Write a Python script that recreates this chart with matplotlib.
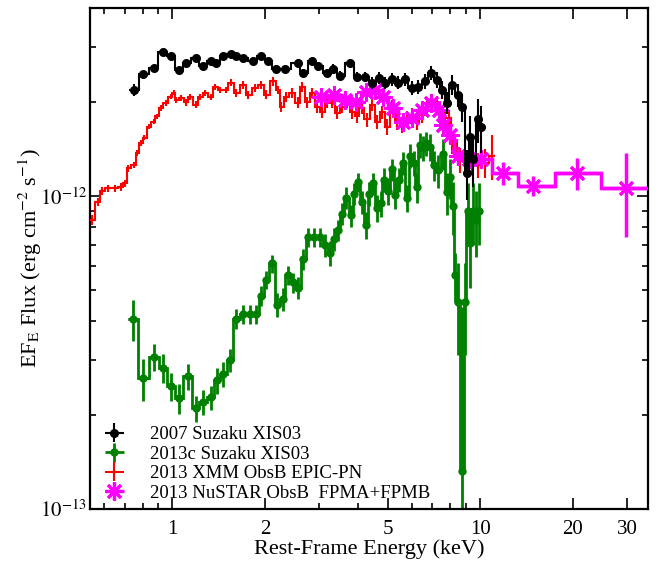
import numpy as np
import matplotlib
matplotlib.use("Agg")
import matplotlib.pyplot as plt
from matplotlib.ticker import FixedLocator, FixedFormatter, LogLocator, NullFormatter

plt.rcParams['font.family'] = ['Liberation Serif', 'DejaVu Serif']
plt.rcParams['mathtext.fontset'] = 'stix'

# fluxes are in units of 1e-12 erg cm^-2 s^-1, energies in keV
scale = 1e-12

# 2007 Suzaku XIS03
suz07_e = np.array([0.75, 0.805, 0.87, 0.93, 0.99, 1.05, 1.11, 1.19, 1.26, 1.33,
                    1.39, 1.46, 1.55, 1.61, 1.70, 1.83, 1.94, 2.05, 2.17, 2.33,
                    2.55, 2.66, 2.85, 2.98, 3.18, 3.33, 3.51, 3.78, 3.98, 4.23,
                    4.46, 4.70, 4.92, 5.17, 5.42, 5.70, 6.00, 6.28, 6.63, 6.93,
                    7.24, 7.52, 7.80, 8.10, 8.48, 8.75, 9.07, 9.28, 9.50, 9.85,
                    10.1])
suz07_f = np.array([2.19, 2.46, 2.58, 2.90, 2.81, 2.54, 2.67, 2.76, 2.60, 2.70,
                    2.66, 2.81, 2.86, 2.80, 2.76, 2.70, 2.80, 2.70, 2.56, 2.56,
                    2.67, 2.48, 2.70, 2.60, 2.48, 2.56, 2.43, 2.66, 2.41, 2.41,
                    2.31, 2.39, 2.31, 2.37, 2.31, 2.37, 2.22, 2.24, 2.33, 2.48,
                    2.36, 2.19, 1.99, 2.27, 2.11, 1.93, 1.19, 1.55, 1.32, 1.76,
                    1.66])
suz07_err = np.array([0.10, 0.06, 0.05, 0.05, 0.05, 0.05, 0.05, 0.05, 0.05, 0.05,
                      0.05, 0.05, 0.05, 0.05, 0.05, 0.05, 0.05, 0.06, 0.06, 0.06,
                      0.07, 0.07, 0.07, 0.08, 0.08, 0.08, 0.08, 0.09, 0.09, 0.09,
                      0.10, 0.10, 0.10, 0.11, 0.11, 0.11, 0.12, 0.12, 0.13, 0.13,
                      0.14, 0.15, 0.16, 0.17, 0.18, 0.20, 0.22, 0.25, 0.25, 0.28,
                      0.28])

# 2013c Suzaku XIS03
suz13_e = np.array([0.747, 0.805, 0.87, 0.935, 0.99, 1.05, 1.12, 1.19, 1.26, 1.33,
                    1.40, 1.46, 1.54, 1.61, 1.70, 1.79, 1.87, 1.94, 2.02, 2.11,
                    2.19, 2.28, 2.38, 2.47, 2.56, 2.66, 2.76, 2.89, 3.02, 3.14,
                    3.26, 3.36, 3.46, 3.56, 3.67, 3.81, 3.90, 4.02, 4.14, 4.26,
                    4.36, 4.49, 4.62, 4.75, 4.86, 5.02, 5.17, 5.30, 5.45, 5.63,
                    5.79, 5.93, 6.10, 6.23, 6.38, 6.50, 6.66, 6.88, 7.07, 7.30,
                    7.58, 7.80, 7.99, 8.15, 8.30, 8.50, 8.75, 8.95, 9.10, 9.30,
                    9.50, 9.70, 9.90])
suz13_f = np.array([0.405, 0.262, 0.306, 0.282, 0.247, 0.226, 0.266, 0.210, 0.220, 0.228,
                    0.258, 0.270, 0.300, 0.405, 0.420, 0.420, 0.420, 0.480, 0.540, 0.610,
                    0.450, 0.470, 0.560, 0.530, 0.510, 0.630, 0.740, 0.740, 0.740, 0.700,
                    0.660, 0.730, 0.780, 0.880, 0.990, 0.870, 1.020, 1.110, 0.960, 0.810,
                    1.020, 1.100, 0.920, 0.950, 1.130, 1.040, 1.220, 1.010, 1.130, 1.280,
                    0.990, 1.350, 1.280, 1.070, 1.460, 1.430, 1.480, 1.440, 1.260, 1.210,
                    1.370, 1.030, 1.150, 0.930, 0.560, 0.460, 0.132, 0.460, 0.900, 0.710,
                    0.900, 0.840, 0.900])
suz13_err = np.array([0.060, 0.040, 0.030, 0.030, 0.025, 0.025, 0.025, 0.020, 0.020, 0.020,
                      0.025, 0.025, 0.025, 0.030, 0.030, 0.030, 0.030, 0.035, 0.035, 0.040,
                      0.040, 0.040, 0.040, 0.040, 0.040, 0.050, 0.050, 0.050, 0.050, 0.060,
                      0.060, 0.060, 0.060, 0.070, 0.080, 0.070, 0.080, 0.080, 0.080, 0.080,
                      0.090, 0.090, 0.090, 0.090, 0.100, 0.100, 0.100, 0.100, 0.100, 0.110,
                      0.100, 0.120, 0.120, 0.120, 0.130, 0.130, 0.130, 0.140, 0.140, 0.150,
                      0.160, 0.160, 0.170, 0.180, 0.100, 0.150, 0.310, 0.150, 0.200, 0.200,
                      0.200, 0.200, 0.200])

# 2013 XMM ObsB EPIC-PN
xmm_e = np.array([0.55, 0.575, 0.59, 0.62, 0.65, 0.68, 0.70, 0.72, 0.75, 0.77,
                  0.79, 0.81, 0.84, 0.87, 0.89, 0.92, 0.95, 0.99, 1.01, 1.03,
                  1.07, 1.11, 1.14, 1.19, 1.23, 1.28, 1.33, 1.38, 1.43, 1.49,
                  1.55, 1.61, 1.70, 1.76, 1.86, 1.94, 2.02, 2.13, 2.21, 2.26,
                  2.34, 2.45, 2.55, 2.64, 2.74, 2.85, 2.95, 3.07, 3.18, 3.30,
                  3.43, 3.56, 3.70, 3.84, 3.98, 4.13, 4.29, 4.46, 4.63, 4.80,
                  4.99, 5.17, 5.37, 5.58, 5.79, 6.00, 6.23, 6.47, 6.72, 6.98,
                  7.24, 7.41, 7.69, 7.93, 8.10, 8.42, 8.61, 9.07, 9.42, 9.85,
                  10.4, 10.9])
xmm_f = np.array([0.84, 0.96, 1.04, 1.06, 1.06, 1.07, 1.10, 1.23, 1.26, 1.38,
                  1.48, 1.54, 1.67, 1.73, 1.80, 1.92, 1.99, 2.08, 2.14, 2.03,
                  2.06, 2.00, 2.08, 1.96, 2.08, 2.14, 2.08, 2.24, 2.19, 2.19,
                  2.31, 2.14, 2.27, 2.11, 2.22, 2.27, 2.11, 2.33, 2.19, 1.93,
                  2.08, 2.14, 1.99, 2.24, 2.00, 2.14, 1.93, 1.86, 2.00, 1.99,
                  1.85, 1.93, 2.00, 1.86, 1.80, 1.92, 1.76, 1.96, 1.73, 1.86,
                  1.67, 1.93, 1.73, 1.69, 1.78, 1.82, 1.73, 1.82, 1.93, 1.96,
                  1.99, 1.82, 1.78, 1.78, 1.48, 1.41, 1.31, 1.26, 1.29, 1.26,
                  1.28, 1.35])
xmm_err = np.array([0.03, 0.03, 0.03, 0.03, 0.03, 0.03, 0.03, 0.03, 0.03, 0.03,
                    0.03, 0.03, 0.03, 0.03, 0.03, 0.04, 0.04, 0.04, 0.04, 0.04,
                    0.05, 0.05, 0.05, 0.05, 0.05, 0.05, 0.05, 0.05, 0.05, 0.05,
                    0.06, 0.06, 0.06, 0.06, 0.06, 0.06, 0.07, 0.07, 0.07, 0.07,
                    0.08, 0.08, 0.08, 0.08, 0.08, 0.08, 0.08, 0.08, 0.08, 0.08,
                    0.09, 0.09, 0.09, 0.09, 0.09, 0.09, 0.09, 0.09, 0.09, 0.09,
                    0.10, 0.10, 0.10, 0.10, 0.10, 0.10, 0.10, 0.10, 0.10, 0.10,
                    0.10, 0.10, 0.11, 0.11, 0.11, 0.11, 0.12, 0.12, 0.12, 0.12,
                    0.14, 0.22])

# 2013 NuSTAR ObsB FPMA+FPMB
nu_e = np.array([3.05, 3.35, 3.65, 3.95, 4.25, 4.55, 4.85, 5.20, 5.60, 6.00,
                 6.45, 6.90, 7.35, 7.60, 8.00, 8.50, 9.20, 10.1, 11.9, 14.9,
                 20.6, 29.8])
nu_f = np.array([2.07, 2.11, 2.03, 2.00, 2.16, 2.19, 2.08, 1.92, 1.73, 1.78,
                 1.89, 1.99, 1.89, 1.69, 1.57, 1.35, 1.32, 1.32, 1.19, 1.08,
                 1.19, 1.06])
nu_err = np.array([0.08, 0.08, 0.08, 0.08, 0.08, 0.08, 0.08, 0.08, 0.08, 0.08,
                   0.09, 0.09, 0.09, 0.09, 0.09, 0.09, 0.09, 0.09, 0.10, 0.08,
                   0.14, 0.32])

labels = ['2007 Suzaku XIS03', '2013c Suzaku XIS03',
          '2013 XMM ObsB EPIC-PN', '2013 NuSTAR ObsB  FPMA+FPMB']


def bin_edges(e):
    le = np.log10(e)
    mid = (le[1:] + le[:-1]) / 2
    return 10 ** np.concatenate([[2 * le[0] - mid[0]], mid, [2 * le[-1] - mid[-1]]])


fig = plt.figure(figsize=(6.59, 5.62), dpi=100)
ax = fig.add_axes([0.1366, 0.0943, 0.8467, 0.8915])
ax.set_xscale('log')
ax.set_yscale('log')


def plot_set(e, f, err, color, lw, marker, ms, mew, z, label):
    ed = bin_edges(e)
    ax.stairs(f * scale, ed, baseline=None, color=color, lw=lw, zorder=z)
    xerr = [e - ed[:-1], ed[1:] - e]
    if marker is None:
        h = ax.errorbar(e, f * scale, xerr=xerr, yerr=err * scale, fmt='none',
                        ecolor=color, elinewidth=lw, capsize=0, zorder=z, label=label)
    else:
        h = ax.errorbar(e, f * scale, xerr=xerr, yerr=err * scale, fmt='',
                        marker=marker, linestyle='none', color=color,
                        ms=ms, mew=mew, elinewidth=lw, capsize=0, zorder=z, label=label)
    return h


h2 = plot_set(suz13_e, suz13_f, suz13_err, 'green', 2.0, 'o', 5, 1, 2, labels[1])
h3 = plot_set(xmm_e, xmm_f, xmm_err, 'red', 1.5, None, 0, 1, 3, labels[2])
h4 = plot_set(nu_e, nu_f, nu_err, 'magenta', 2.5, (8, 2, 0), 13, 2.0, 4, labels[3])
h1 = plot_set(suz07_e, suz07_f, suz07_err, 'black', 1.5, 'o', 5.5, 1, 5, labels[0])

ax.set_xlim(0.54, 35.1)
ax.set_ylim(1e-13, 4.0e-12)

xt = [1, 2, 5, 10, 20, 30]
ax.xaxis.set_major_locator(FixedLocator(xt))
ax.xaxis.set_major_formatter(FixedFormatter([str(v) for v in xt]))
ax.xaxis.set_minor_locator(LogLocator(base=10, subs=np.arange(1, 10)))
ax.xaxis.set_minor_formatter(NullFormatter())
ax.yaxis.set_major_locator(FixedLocator([1e-13, 1e-12]))
ax.yaxis.set_major_formatter(FixedFormatter([r'$10^{-13}$', r'$10^{-12}$']))
ax.yaxis.set_minor_locator(LogLocator(base=10, subs=np.arange(2, 10)))
ax.yaxis.set_minor_formatter(NullFormatter())

ax.tick_params(which='both', direction='in', top=True, right=True, labelsize=15)
ax.tick_params(which='major', length=8, width=1.2)
ax.tick_params(which='minor', length=4, width=1.2)
ax.tick_params(axis='x', pad=8)
ax.tick_params(axis='y', pad=2)
for sp in ax.spines.values():
    sp.set_linewidth(1.6)

ax.set_xlabel('Rest-Frame Energy (keV)', fontsize=16, labelpad=0)
ax.set_ylabel(r'EF$_{\mathrm{E}}$ Flux (erg cm$^{-2}$ s$^{-1}$)', fontsize=16,
              labelpad=-3)

ax.legend([h1, h2, h3, h4], labels, loc='lower left', frameon=False, fontsize=13.5,
          handlelength=1.8, handletextpad=1.0, labelspacing=0.12,
          borderaxespad=0.2, borderpad=0.2)

fig.savefig('out.png', dpi=100)
